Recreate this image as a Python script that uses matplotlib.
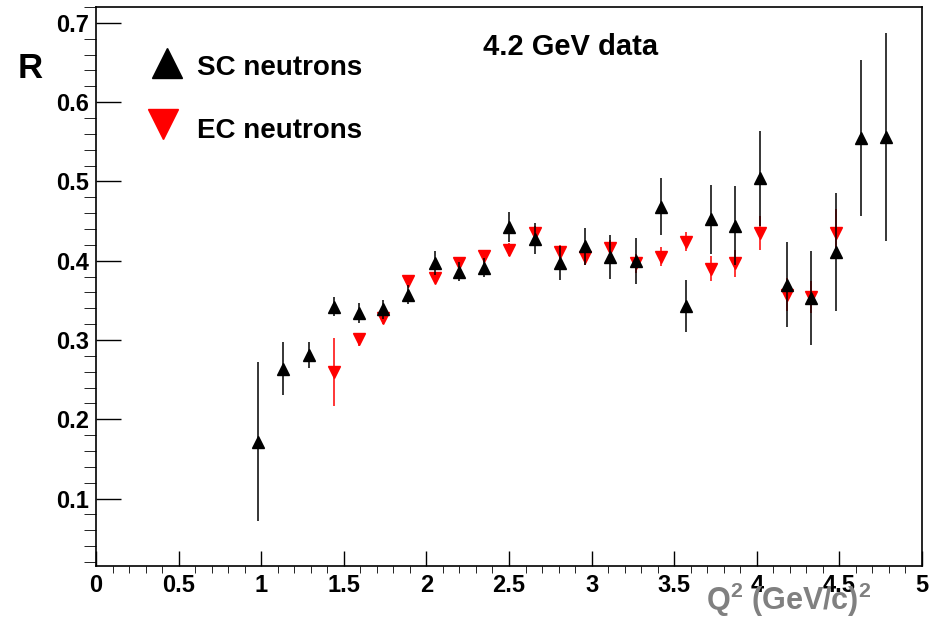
import matplotlib.pyplot as plt
from matplotlib.ticker import MultipleLocator

plt.rcParams['font.family'] = ['Liberation Sans', 'DejaVu Sans']
plt.rcParams['mathtext.fontset'] = 'custom'
plt.rcParams['mathtext.rm'] = 'Liberation Sans:bold'
plt.rcParams['mathtext.it'] = 'Liberation Sans:bold'
plt.rcParams['mathtext.bf'] = 'Liberation Sans:bold'

# SC neutrons (black, up triangles)
sc_q2 = [0.98, 1.13, 1.29, 1.44, 1.59, 1.74, 1.89, 2.05, 2.20, 2.35, 2.50, 2.66, 2.81,
         2.96, 3.11, 3.27, 3.42, 3.57, 3.72, 3.87, 4.02, 4.18, 4.33, 4.48, 4.63, 4.78]
sc_r = [0.172, 0.264, 0.281, 0.342, 0.334, 0.339, 0.357, 0.397, 0.386, 0.391, 0.443, 0.428, 0.397,
        0.418, 0.405, 0.400, 0.468, 0.343, 0.452, 0.444, 0.504, 0.370, 0.353, 0.411, 0.555, 0.556]
sc_err = [0.100, 0.033, 0.016, 0.012, 0.013, 0.012, 0.012, 0.015, 0.012, 0.012, 0.019, 0.020, 0.021,
          0.023, 0.028, 0.029, 0.036, 0.033, 0.044, 0.050, 0.060, 0.054, 0.059, 0.074, 0.098, 0.131]

# EC neutrons (red, down triangles)
ec_q2 = [1.44, 1.59, 1.74, 1.89, 2.05, 2.20, 2.35, 2.50, 2.66, 2.81, 2.96, 3.11, 3.27,
         3.42, 3.57, 3.72, 3.87, 4.02, 4.18, 4.33, 4.48]
ec_r = [0.260, 0.301, 0.328, 0.375, 0.378, 0.397, 0.406, 0.414, 0.435, 0.411, 0.405, 0.416, 0.397,
        0.405, 0.424, 0.390, 0.397, 0.435, 0.357, 0.354, 0.435]
ec_err = [0.043, 0.008, 0.008, 0.006, 0.006, 0.006, 0.007, 0.008, 0.009, 0.009, 0.010, 0.010, 0.012,
          0.012, 0.012, 0.016, 0.017, 0.022, 0.021, 0.020, 0.030]

x_ticks = [0, 0.5, 1, 1.5, 2, 2.5, 3, 3.5, 4, 4.5, 5]
x_tick_labels = ['0', '0.5', '1', '1.5', '2', '2.5', '3', '3.5', '4', '4.5', '5']
y_ticks = [0.1, 0.2, 0.3, 0.4, 0.5, 0.6, 0.7]
y_tick_labels = ['0.1', '0.2', '0.3', '0.4', '0.5', '0.6', '0.7']

W, H = 941, 625
fig = plt.figure(figsize=(W / 100, H / 100), dpi=100)
ax = fig.add_axes([96 / W, 1 - 566 / H, (922 - 96) / W, (566 - 7) / H])

ax.errorbar(ec_q2, ec_r, yerr=ec_err, fmt='v', color='red', ms=8, elinewidth=1.1,
            capsize=0, zorder=2)
ax.errorbar(sc_q2, sc_r, yerr=sc_err, fmt='^', color='black', ms=8, elinewidth=1.1,
            capsize=0, zorder=3)

ax.set_xlim(0, 5)
ax.set_ylim(0.015, 0.72)
ax.set_xticks(x_ticks, x_tick_labels)
ax.set_yticks(y_ticks, y_tick_labels)
ax.xaxis.set_minor_locator(MultipleLocator(0.1))
ax.yaxis.set_minor_locator(MultipleLocator(0.02))
ax.tick_params(direction='in', top=False, right=False, width=1, labelsize=17)
ax.tick_params(axis='x', which='major', length=11, pad=6)
ax.tick_params(axis='x', which='minor', length=5)
ax.tick_params(axis='y', which='major', length=18, pad=5)
ax.tick_params(axis='y', which='minor', length=9)
for lab in ax.get_xticklabels() + ax.get_yticklabels():
    lab.set_fontweight('bold')
for s in ax.spines.values():
    s.set_linewidth(1.2)

# legend drawn by hand, ROOT style
fig.text(30 / W, 1 - 78 / H, 'R', fontsize=25, fontweight='bold', ha='center', va='baseline')
fig.lines.append(plt.Line2D([167 / W], [1 - 63 / H], marker='^', ms=21, color='black',
                            transform=fig.transFigure))
fig.lines.append(plt.Line2D([163 / W], [1 - 124 / H], marker='v', ms=21, color='red',
                            transform=fig.transFigure))
fig.text(197 / W, 1 - 75 / H, 'SC neutrons', fontsize=20, fontweight='bold', va='baseline')
fig.text(197 / W, 1 - 138 / H, 'EC neutrons', fontsize=20, fontweight='bold', va='baseline')
fig.text(483 / W, 1 - 55 / H, '4.2 GeV data', fontsize=21, fontweight='bold', va='baseline')
fig.text(706 / W, 1 - 610 / H, r'Q$^{2}$ (GeV/c)$^{2}$', fontsize=22, fontweight='bold',
         color='#808080', va='baseline')

fig.savefig('out.png', dpi=100)
